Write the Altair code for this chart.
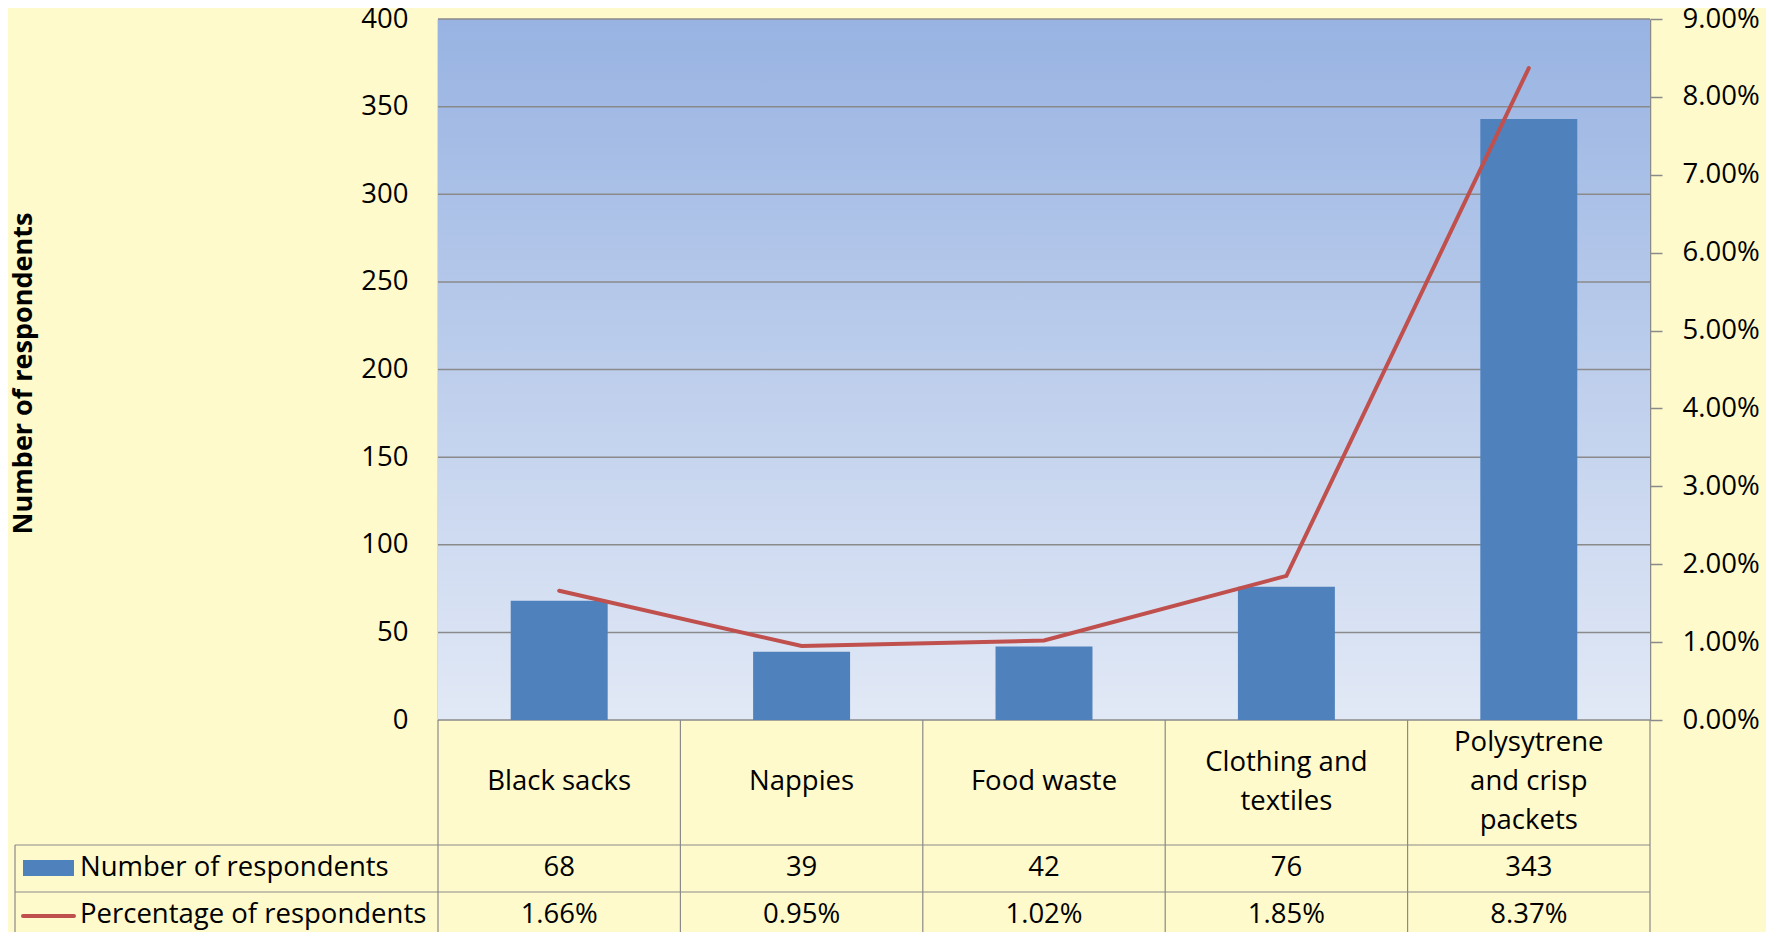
import altair as alt
import pandas as pd

categories = ["Black sacks", "Nappies", "Food waste", "Clothing and textiles",
              "Polysytrene and crisp packets"]
category_labels = ["Black sacks", "Nappies", "Food waste", "Clothing and\ntextiles",
                   "Polysytrene\nand crisp\npackets"]
counts = [68, 39, 42, 76, 343]
percentages = [0.0166, 0.0095, 0.0102, 0.0185, 0.0837]
series_names = ["Number of respondents", "Percentage of respondents"]
left_ticks = [0, 50, 100, 150, 200, 250, 300, 350, 400]
right_ticks = [0.0, 0.01, 0.02, 0.03, 0.04, 0.05, 0.06, 0.07, 0.08, 0.09]

W, H = 1212, 701
FONT = "Open Sans"
FS = 27.5
LH = 39
GRAY = "#8A8A8A"
BLUE = "#4F81BD"
RED = "#C0504D"
BG = "#FEFACB"

df = pd.DataFrame({"cat": categories, "label": category_labels,
                   "count": counts, "pct": percentages})
one = alt.Data(values=[{}])

xcat = alt.X("cat:N", sort=categories, axis=None,
             scale=alt.Scale(paddingInner=0.6, paddingOuter=0.3))
yleft = alt.Scale(domain=[0, 400], nice=False, zero=True)
left_axis = alt.Axis(values=left_ticks, ticks=False, tickSize=0, labelPadding=30,
                     labelFont=FONT, labelFontSize=FS, labelColor="black",
                     domainColor=GRAY, domainWidth=1.5, grid=False,
                     title="Number of respondents", titleFont=FONT,
                     titleFontSize=27, titleFontWeight="bold", titleColor="black",
                     titleX=-415, titleY=354, titleAngle=-90,
                     titleAlign="center", titleBaseline="middle")

bg = alt.Chart(one).mark_rect(
    color=alt.Gradient(gradient="linear", x1=0, x2=0, y1=0, y2=1,
                       stops=[alt.GradientStop(offset=0, color="#98B3E2"),
                              alt.GradientStop(offset=1, color="#E2E9F6")])
).encode(x=alt.value(0), x2=alt.value(W), y=alt.value(0), y2=alt.value(H))

grid = alt.Chart(pd.DataFrame({"v": left_ticks})).mark_rule(
    color=GRAY, strokeWidth=1.5
).encode(y=alt.Y("v:Q", scale=yleft, axis=left_axis), x=alt.value(0), x2=alt.value(W))

bars = alt.Chart(df).mark_bar(color=BLUE).encode(
    x=xcat,
    y=alt.Y("count:Q", scale=yleft, axis=left_axis),
)

left = alt.layer(grid, bars)

line = alt.Chart(df).mark_line(color=RED, strokeWidth=4, strokeCap="round").encode(
    x=alt.X("cat:N", sort=categories),
    y=alt.Y("pct:Q", scale=alt.Scale(domain=[0, 0.09], nice=False),
            axis=alt.Axis(orient="right", values=right_ticks, format=".2%",
                          ticks=True, tickSize=12, tickColor=GRAY, tickWidth=1.5,
                          labelPadding=20, labelFont=FONT, labelFontSize=FS,
                          labelColor="black", domainColor=GRAY, domainWidth=1.5,
                          grid=False, title=None)),
)

# ---- data table below the plot ----
cat_text = alt.Chart(df).transform_calculate(
    off=f"-(length(split(datum.label, '\\n')) - 1) * {LH / 2}"
).mark_text(
    font=FONT, fontSize=FS, lineBreak="\n", lineHeight=LH, baseline="middle", color="black"
).encode(x=alt.X("cat:N", sort=categories), y=alt.value(763),
         yOffset=alt.YOffset("off:Q", scale=None), text="label:N")

count_text = alt.Chart(df).mark_text(
    font=FONT, fontSize=FS, baseline="middle", color="black"
).encode(x=alt.X("cat:N", sort=categories), y=alt.value(849), text="count:Q")

pct_text = alt.Chart(df).mark_text(
    font=FONT, fontSize=FS, baseline="middle", color="black"
).encode(x=alt.X("cat:N", sort=categories), y=alt.value(896),
         text=alt.Text("pct:Q", format=".2%"))

legend_layers = []
for i, yv in enumerate([849, 896]):
    legend_layers.append(
        alt.Chart(alt.Data(values=[{"name": series_names[i]}])).mark_text(
            font=FONT, fontSize=FS, baseline="middle", align="left", color="black"
        ).encode(x=alt.value(-358), y=alt.value(yv), text="name:N")
    )
sym_bar = alt.Chart(one).mark_rect(color=BLUE).encode(
    x=alt.value(-415), x2=alt.value(-364), y=alt.value(841), y2=alt.value(857))
sym_line = alt.Chart(one).mark_rule(color=RED, strokeWidth=4, strokeCap="round").encode(
    x=alt.value(-415), x2=alt.value(-364), y=alt.value(897))

table_lines = []
for k in range(6):
    xp = W * k / 5
    table_lines.append(alt.Chart(one).mark_rule(color=GRAY, strokeWidth=1.2).encode(
        x=alt.value(xp), y=alt.value(H), y2=alt.value(913)))
table_lines.append(alt.Chart(one).mark_rule(color=GRAY, strokeWidth=1.2).encode(
    x=alt.value(-423), y=alt.value(826), y2=alt.value(913)))
for yv in [826, 873]:
    table_lines.append(alt.Chart(one).mark_rule(color=GRAY, strokeWidth=1.2).encode(
        x=alt.value(-423), x2=alt.value(W), y=alt.value(yv)))

chart = alt.layer(
    bg, left, line, cat_text, count_text, pct_text, sym_bar, sym_line,
    *legend_layers, *table_lines
).resolve_scale(y="independent").properties(
    width=W, height=H,
    autosize=alt.AutoSizeParams(type="none"),
    padding={"left": 430, "top": 11, "right": 116, "bottom": 212},
).configure(background=BG).configure_view(stroke=None)

chart.save("out.html", embed_options={"renderer": "svg", "actions": False})
